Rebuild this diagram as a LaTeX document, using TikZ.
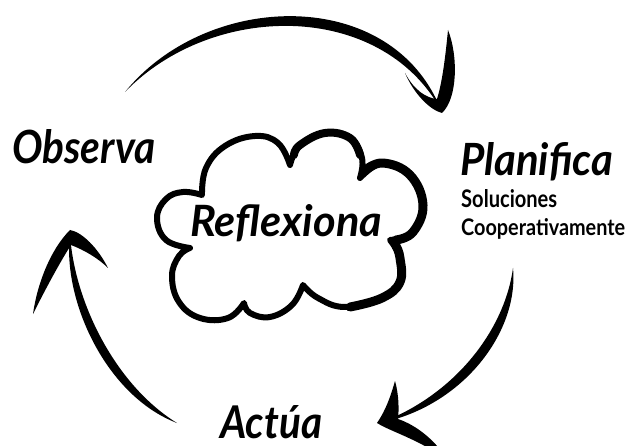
\documentclass[tikz,border=0pt]{standalone}
\usepackage{fontspec}
\setmainfont{Lato}
\begin{document}
\begin{tikzpicture}[x=1pt,y=-1pt,
  ink/.style={fill=black},
  cloudline/.style={draw=black,line width=6pt,line join=round,line cap=round},
  lab/.style={anchor=base west,inner sep=0pt,font=\bfseries\itshape}]
\path[use as bounding box] (0,0) rectangle (629,446);
\clip (0,0) rectangle (629,446);

% labels
\node[lab] (obs) at (12,164) {\resizebox{143pt}{34pt}{Observa}};
\node[lab] (plan) at (460,176) {\resizebox{153pt}{33pt}{Planifica}};
\node[lab,font=\bfseries] (sol) at (461,208) {\resizebox{96pt}{18pt}{Soluciones}};
\node[lab,font=\bfseries] (coop) at (461,236) {\resizebox{164pt}{17pt}{Cooperativamente}};
\node[lab] (refl) at (190,237) {\resizebox{192pt}{32pt}{Reflexiona}};
\node[lab] (act) at (220,438) {\resizebox{102pt}{33pt}{Actúa}};

% cloud
\draw[cloudline]
  plot[smooth,tension=0.7] coordinates {(190,248) (166,240) (157,218) (166,199) (183,192) (202,195)}
  -- plot[smooth,tension=0.7] coordinates {(202,195) (206,168) (225,146) (255,136) (278,143) (290,165)}
  -- plot[smooth,tension=0.7] coordinates {(290,165) (300,145) (325,133) (350,138) (362,158) (360,178)}
  -- plot[smooth,tension=0.7] coordinates {(360,178) (383,163) (410,175) (423,205) (413,232) (390,240)}
  -- plot[smooth,tension=0.7] coordinates {(390,240) (400,258) (400,282) (382,298) (345,307) (318,298) (303,285)}
  -- plot[smooth,tension=0.7] coordinates {(303,285) (292,305) (270,317) (250,313) (244,303)}
  -- plot[smooth,tension=0.7] coordinates {(244,303) (228,318) (200,318) (179,302) (172,276) (179,256) (190,248)}
  -- cycle;
\draw[cloudline,line width=9pt]
  plot[smooth,tension=0.7] coordinates {(364,171) (383,163) (410,175) (423,205) (413,232) (396,240)}
  plot[smooth,tension=0.7] coordinates {(396,246) (400,258) (400,282) (382,298) (350,307)};
\draw[cloudline,line width=8pt]
  plot[smooth,tension=0.7] coordinates {(294,155) (300,145) (325,133) (350,138) (360,155)};

% arrow end points
\coordinate (tA) at (125,92);  \coordinate (tB) at (441,110);
\coordinate (rA) at (513,268); \coordinate (rB) at (380,423);
\coordinate (lA) at (177,423); \coordinate (lB) at (70,234);

% top arrow (Observa -> Planifica)
\fill[ink] (tA) .. controls (208,-10) and (392,-14) .. (tB)
  .. controls (380,0) and (212,2) .. (tA) -- cycle;
\fill[ink] (448,30) .. controls (458,55) and (458,98) .. (442,113)
  .. controls (430,110) and (414,94) .. (405,73)
  .. controls (414,90) and (426,98) .. (437,99)
  .. controls (443,80) and (446,50) .. (448,30) -- cycle;

% right arrow (Planifica -> Actua)
\fill[ink] (rA) .. controls (519,332) and (463,406) .. (rB)
  .. controls (457,394) and (505,328) .. (rA) -- cycle;
\fill[ink] (395,381) .. controls (399,395) and (399,410) .. (398,419)
  .. controls (410,423) and (425,432) .. (438,447) -- (432,450)
  .. controls (408,436) and (388,430) .. (377,423)
  .. controls (386,410) and (391,395) .. (395,381) -- cycle;

% left arrow (Actua -> Observa)
\fill[ink] (lA) .. controls (106,396) and (62,300) .. (lB)
  .. controls (74,300) and (114,384) .. (lA) -- cycle;
\fill[ink] (70,230) .. controls (82,232) and (98,248) .. (108,268)
  .. controls (98,258) and (84,250) .. (71,245)
  .. controls (60,262) and (45,290) .. (33,314)
  .. controls (37,285) and (50,250) .. (70,230) -- cycle;
\end{tikzpicture}
\end{document}
